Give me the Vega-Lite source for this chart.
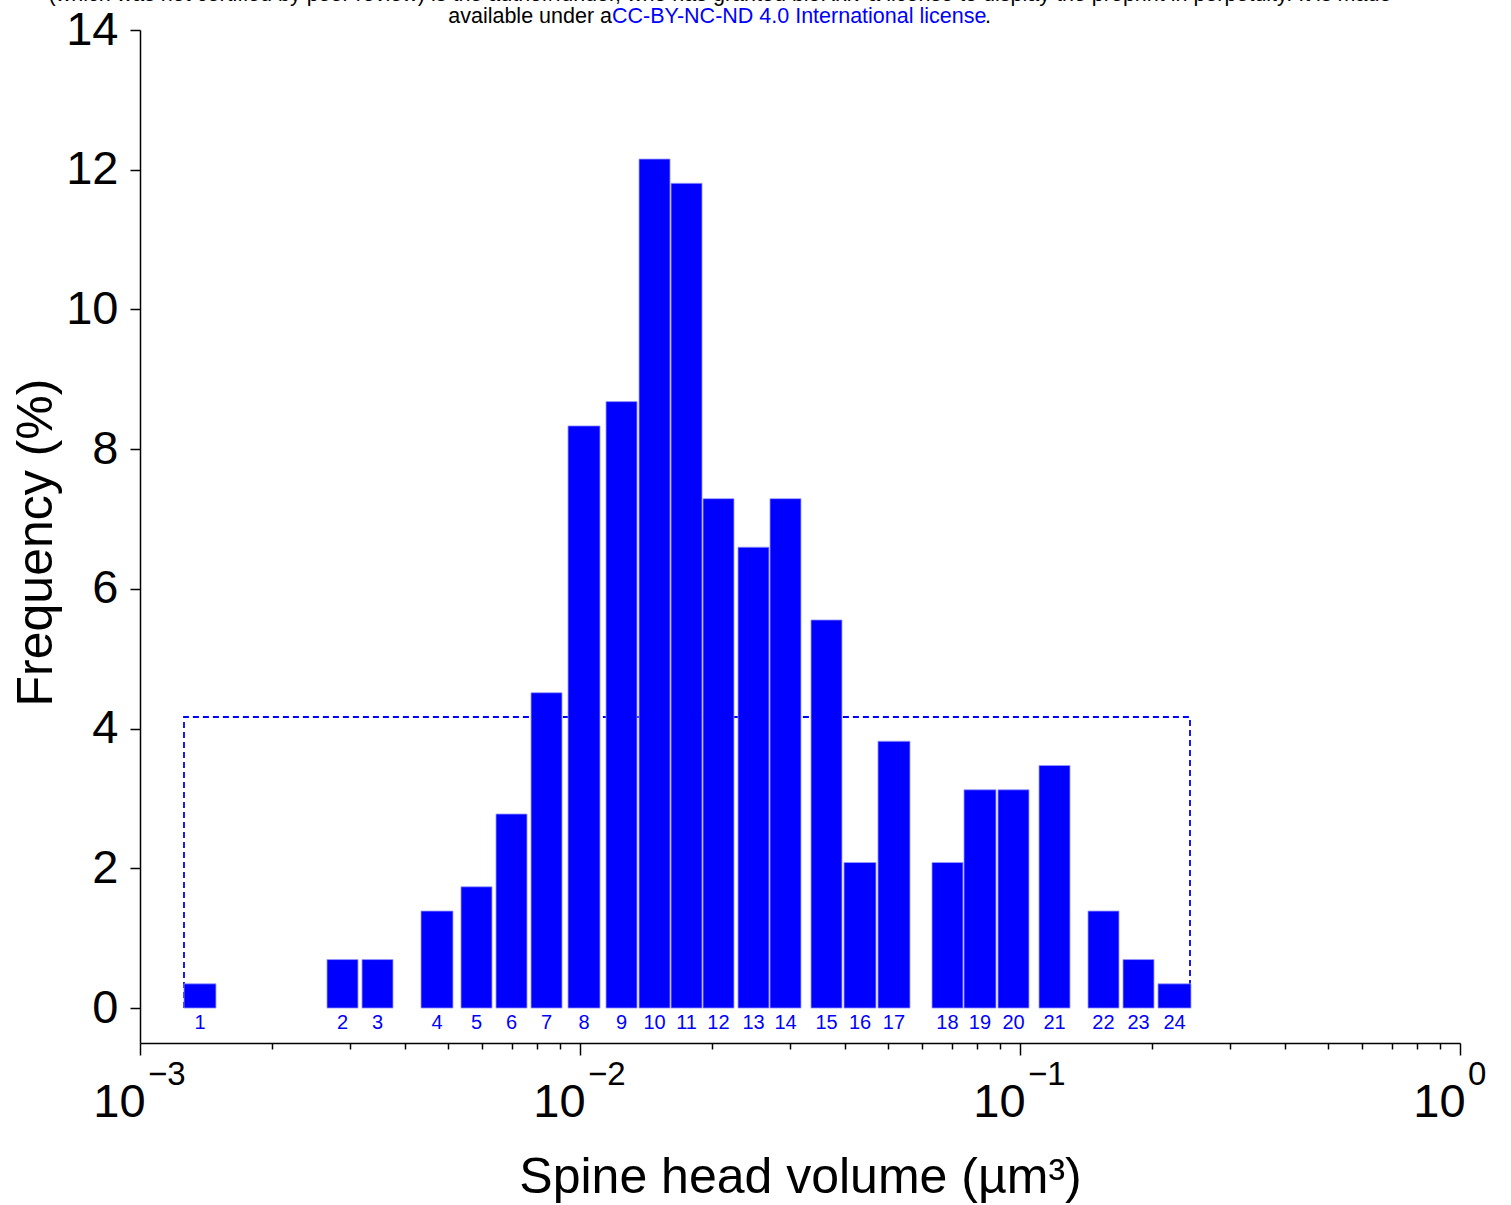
{
  "$schema": "https://vega.github.io/schema/vega-lite/v6.json",
  "autosize": "none",
  "width": 1320,
  "height": 1013,
  "padding": {"left": 140, "top": 30, "right": 51, "bottom": 162},
  "background": "white",
  "config": {
    "font": "Liberation Sans",
    "view": {"stroke": null},
    "axis": {"grid": false, "domainColor": "black", "tickColor": "black", "labelColor": "black", "titleColor": "black", "titleFontWeight": "normal", "domainWidth": 1.5, "tickWidth": 1.5}
  },
  "datasets": {
    "bins": [
      {"n": "1", "lo": 0.0012589, "hi": 0.0014882, "mid": 0.0013691, "pct": 0.3472},
      {"n": "2", "lo": 0.0026607, "hi": 0.0031294, "mid": 0.0028862, "pct": 0.6944},
      {"n": "3", "lo": 0.0031956, "hi": 0.0037584, "mid": 0.0034655, "pct": 0.6944},
      {"n": "4", "lo": 0.0043516, "hi": 0.0051443, "mid": 0.0047315, "pct": 1.3889},
      {"n": "5", "lo": 0.0053644, "hi": 0.0063096, "mid": 0.0058178, "pct": 1.7361},
      {"n": "6", "lo": 0.006443, "hi": 0.0075784, "mid": 0.0069891, "pct": 2.7778},
      {"n": "7", "lo": 0.0077388, "hi": 0.009102, "mid": 0.0083931, "pct": 4.5139},
      {"n": "8", "lo": 0.0093923, "hi": 0.011104, "mid": 0.010212, "pct": 8.3333},
      {"n": "9", "lo": 0.011458, "hi": 0.013477, "mid": 0.012428, "pct": 8.6806},
      {"n": "10", "lo": 0.013619, "hi": 0.016018, "mid": 0.014773, "pct": 12.1528},
      {"n": "11", "lo": 0.016102, "hi": 0.018938, "mid": 0.017462, "pct": 11.8056},
      {"n": "12", "lo": 0.019037, "hi": 0.022387, "mid": 0.02064, "pct": 7.2917},
      {"n": "13", "lo": 0.022861, "hi": 0.026886, "mid": 0.024799, "pct": 6.5972},
      {"n": "14", "lo": 0.027027, "hi": 0.031787, "mid": 0.029317, "pct": 7.2917},
      {"n": "15", "lo": 0.033497, "hi": 0.039393, "mid": 0.036331, "pct": 5.5556},
      {"n": "16", "lo": 0.039811, "hi": 0.047064, "mid": 0.043288, "pct": 2.0833},
      {"n": "17", "lo": 0.047559, "hi": 0.056234, "mid": 0.051715, "pct": 3.8194},
      {"n": "18", "lo": 0.063096, "hi": 0.074205, "mid": 0.068426, "pct": 2.0833},
      {"n": "19", "lo": 0.074595, "hi": 0.088192, "mid": 0.081113, "pct": 3.125},
      {"n": "20", "lo": 0.089125, "hi": 0.10482, "mid": 0.096657, "pct": 3.125},
      {"n": "21", "lo": 0.11046, "hi": 0.12991, "mid": 0.11979, "pct": 3.4722},
      {"n": "22", "lo": 0.14275, "hi": 0.16788, "mid": 0.15479, "pct": 1.3889},
      {"n": "23", "lo": 0.17143, "hi": 0.20164, "mid": 0.18596, "pct": 0.6944},
      {"n": "24", "lo": 0.2059, "hi": 0.2447, "mid": 0.22448, "pct": 0.3472}
    ],
    "uniform": [
      {"order": 1, "v": 0.0012589, "pct": 0},
      {"order": 2, "v": 0.0012589, "pct": 4.1667},
      {"order": 3, "v": 0.24342, "pct": 4.1667},
      {"order": 4, "v": 0.24342, "pct": 0}
    ],
    "exps": [
      {"v": 0.001, "e": "−3"},
      {"v": 0.01, "e": "−2"},
      {"v": 0.1, "e": "−1"},
      {"v": 1, "e": "0"}
    ],
    "header": [
      {"part": "line1", "v": 0.020802, "text": "(which was not certified by peer review) is the author/funder, who has granted bioRxiv a license to display the preprint in perpetuity. It is made"},
      {"part": "avail", "v": 0.011823, "text": "available under a"},
      {"part": "lic", "v": 0.011823, "text": "CC-BY-NC-ND 4.0 International license"},
      {"part": "dot", "v": 0.083239, "text": "."}
    ]
  },
  "layer": [
    {
      "data": {"name": "uniform"},
      "mark": {"type": "line", "color": "#0000ff", "strokeWidth": 1.8, "strokeDash": [6, 4]},
      "encoding": {
        "x": {
          "field": "v", "type": "quantitative",
          "scale": {"type": "log", "domain": [0.001, 1]},
          "axis": {
            "values": [0.001, 0.002, 0.003, 0.004, 0.005, 0.006, 0.007, 0.008, 0.009, 0.01, 0.02, 0.03, 0.04, 0.05, 0.06, 0.07, 0.08, 0.09, 0.1, 0.2, 0.3, 0.4, 0.5, 0.6, 0.7, 0.8, 0.9, 1],
            "labelExpr": "indexof([0.001, 0.01, 0.1, 1], datum.value) >= 0 ? '10' : ''",
            "tickSize": {"condition": {"test": "indexof([0.001, 0.01, 0.1, 1], datum.value) >= 0", "value": 12}, "value": 6},
            "labelFontSize": 47,
            "labelAlign": "center",
            "labelOffset": -21,
            "labelBaseline": "alphabetic",
            "labelPadding": 61,
            "labelOverlap": false,
            "labelFlush": false,
            "title": "Spine head volume (µm³)",
            "titleFontSize": 50,
            "titleBaseline": "alphabetic",
            "titleY": 149
          }
        },
        "y": {
          "field": "pct", "type": "quantitative",
          "scale": {"domain": [-0.5, 14], "nice": false, "zero": false},
          "axis": {
            "values": [0, 2, 4, 6, 8, 10, 12, 14],
            "format": "d",
            "tickSize": 10,
            "labelFontSize": 47,
            "labelPadding": 12,
            "title": "Frequency (%)",
            "titleFontSize": 50,
            "titleBaseline": "middle",
            "titleAlign": "center",
            "titleX": -104,
            "titleY": 512
          }
        },
        "order": {"field": "order", "type": "quantitative"}
      }
    },
    {
      "data": {"name": "bins"},
      "mark": {"type": "bar", "color": "#0000ff", "stroke": "#9a9aff", "strokeWidth": 0.8},
      "encoding": {
        "x": {"field": "lo", "type": "quantitative"},
        "x2": {"field": "hi"},
        "y": {"field": "pct", "type": "quantitative"},
        "y2": {"datum": 0}
      }
    },
    {
      "data": {"name": "bins"},
      "mark": {"type": "text", "color": "#0000ff", "fontSize": 20, "baseline": "middle", "dy": 15},
      "encoding": {
        "x": {"field": "mid", "type": "quantitative"},
        "y": {"datum": 0},
        "text": {"field": "n"}
      }
    },
    {
      "data": {"name": "exps"},
      "mark": {"type": "text", "color": "black", "fontSize": 33, "align": "left", "baseline": "alphabetic", "dx": 8, "dy": 42},
      "encoding": {
        "x": {"field": "v", "type": "quantitative"},
        "y": {"datum": -0.5},
        "text": {"field": "e"}
      }
    },
    {
      "data": {"name": "header"},
      "transform": [{"filter": "datum.part == 'line1'"}],
      "mark": {"type": "text", "color": "black", "fontSize": 21.5, "align": "center", "baseline": "alphabetic", "dy": -29},
      "encoding": {
        "x": {"field": "v", "type": "quantitative"},
        "y": {"datum": 14},
        "text": {"field": "text"}
      }
    },
    {
      "data": {"name": "header"},
      "transform": [{"filter": "datum.part == 'avail'"}],
      "mark": {"type": "text", "color": "black", "fontSize": 21.5, "align": "right", "baseline": "alphabetic", "dy": -7},
      "encoding": {
        "x": {"field": "v", "type": "quantitative"},
        "y": {"datum": 14},
        "text": {"field": "text"}
      }
    },
    {
      "data": {"name": "header"},
      "transform": [{"filter": "datum.part == 'lic'"}],
      "mark": {"type": "text", "color": "#0000ff", "fontSize": 21.5, "align": "left", "baseline": "alphabetic", "dy": -7},
      "encoding": {
        "x": {"field": "v", "type": "quantitative"},
        "y": {"datum": 14},
        "text": {"field": "text"}
      }
    },
    {
      "data": {"name": "header"},
      "transform": [{"filter": "datum.part == 'dot'"}],
      "mark": {"type": "text", "color": "black", "fontSize": 21.5, "align": "left", "baseline": "alphabetic", "dy": -7},
      "encoding": {
        "x": {"field": "v", "type": "quantitative"},
        "y": {"datum": 14},
        "text": {"field": "text"}
      }
    }
  ]
}
